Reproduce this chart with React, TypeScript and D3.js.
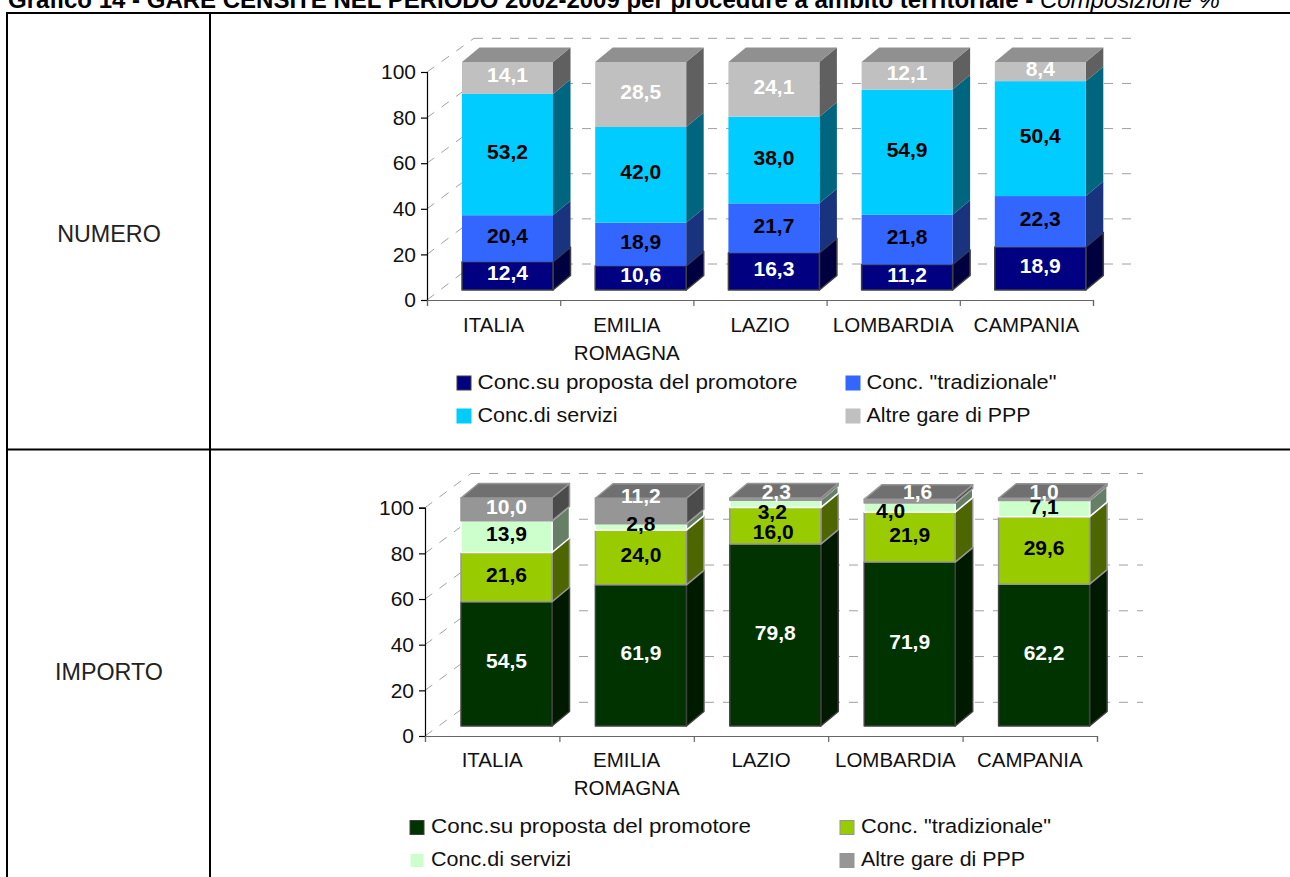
import React, {useEffect, useRef} from 'react';
import * as d3 from "d3";

const categories = ["ITALIA", "EMILIA ROMAGNA", "LAZIO", "LOMBARDIA", "CAMPANIA"]
const seriesNames = ["Conc.su proposta del promotore", 'Conc. "tradizionale"', "Conc.di servizi", "Altre gare di PPP"]
const yTicks = [0, 20, 40, 60, 80, 100]

// NUMERO
const numPromotore = [12.4, 10.6, 16.3, 11.2, 18.9]
const numTradizionale = [20.4, 18.9, 21.7, 21.8, 22.3]
const numServizi = [53.2, 42.0, 38.0, 54.9, 50.4]
const numAltre = [14.1, 28.5, 24.1, 12.1, 8.4]

// IMPORTO
const impPromotore = [54.5, 61.9, 79.8, 71.9, 62.2]
const impTradizionale = [21.6, 24.0, 16.0, 21.9, 29.6]
const impServizi = [13.9, 2.8, 3.2, 4.0, 7.1]
const impAltre = [10.0, 11.2, 2.3, 1.6, 1.0]

const font = "'Liberation Sans', Arial, sans-serif"
const fmt = d3.formatLocale({decimal: ",", thousands: ".", grouping: [3], currency: ["", ""]}).format(".1f")

const numeroStyle = {
  values: [numPromotore, numTradizionale, numServizi, numAltre],
  fill: ["#000080", "#3366ff", "#00ccff", "#c0c0c0"],
  side: ["#000040", "#1a337f", "#006680", "#606060"],
  topFace: "#909090",
  stroke: ["#404040", "none", "none", "none"],
  labelFill: ["#fff", "#000", "#000", "#fff"],
  xRange: [427, 1093],
  yRange: [300, 72],
  backY: [264, 38.3],
  backDx: 47,
  barOffset: 35,
  floor: 290,
  catBaseline: 332,
  legendSwatchX: [457, 846],
  legendTextX: [477.5, 866.5],
  legendBaseline: [389, 422],
  legendSwatchY: [376, 409],
  legendLength: [320, 190, 140, 164],
  nudge: {} as Record<string, number[]>,
}

const importoStyle = {
  values: [impPromotore, impTradizionale, impServizi, impAltre],
  fill: ["#003300", "#99cc00", "#ccffcc", "#969696"],
  side: ["#001a00", "#4d6600", "#667f66", "#4b4b4b"],
  topFace: "#707070",
  stroke: ["#404040", "#969696", "#ffffff", "#969696"],
  labelFill: ["#fff", "#000", "#000", "#fff"],
  xRange: [425, 1097],
  yRange: [736, 507.7],
  backY: [702.3, 473.5],
  backDx: 46,
  barOffset: 36,
  floor: 726,
  catBaseline: 767,
  legendSwatchX: [410, 840],
  legendTextX: [431, 861],
  legendBaseline: [833, 866],
  legendSwatchY: [820.5, 853.5],
  legendLength: [320, 190, 140, 164],
  // hand moved labels, [dx, dy], "series-category"
  nudge: {
    "3-1": [0, -12], "3-2": [1, -5], "2-2": [-3, 10.7], "1-2": [-2, 9],
    "3-3": [8, -6.5], "2-3": [-19, 5.5], "3-4": [0, -4.6], "2-4": [0, 1],
  } as Record<string, number[]>,
}

const barWidth = 91
const depthX = 17.5
const depthY = -14.5

function drawPanel(svg: any, cfg: typeof numeroStyle) {
  const x = d3.scaleBand().domain(categories).range(cfg.xRange as [number, number])
  const edges = d3.scaleLinear().domain([0, categories.length]).range(cfg.xRange)
  const y = d3.scaleLinear().domain([0, 100]).range(cfg.yRange)
  const back = d3.scaleLinear().domain([0, 100]).range(cfg.backY)
  const axisX = cfg.xRange[0]

  // back wall grid
  const grid = svg.append("g")
    .attr("fill", "none")
    .attr("stroke", "#a0a0a0")
    .attr("stroke-width", 1)
    .attr("stroke-dasharray", "9 9")
  yTicks.forEach(t => {
    grid.append("line")
      .attr("x1", axisX + cfg.backDx).attr("x2", cfg.xRange[1] + cfg.backDx)
      .attr("y1", back(t)).attr("y2", back(t))
    grid.append("line")
      .attr("x1", axisX).attr("x2", axisX + cfg.backDx)
      .attr("y1", y(t)).attr("y2", back(t))
  })

  // stacked bars, the floor sits above the axis because of the 3d depth
  const rows = categories.map((_, c) => cfg.values.map(v => v[c]))
  const stacked = d3.stack<number[], number>().keys(d3.range(cfg.values.length)).value((row, k) => row[k])(rows)
  const yBar = d3.scaleLinear().domain([0, 100]).range([cfg.floor, cfg.floor - 228]).clamp(true)

  categories.forEach((cat, c) => {
    const left = (x(cat) as number) + cfg.barOffset
    const right = left + barWidth
    stacked.forEach((segs, s) => {
      const a = segs[c][0]
      const b = segs[c][1]
      const g = svg.append("g")
        .attr("stroke", cfg.stroke[s])
        .attr("stroke-width", 1.5)
        .attr("stroke-linejoin", "round")
      const path = d3.path()
      path.moveTo(right, yBar(a))
      path.lineTo(right + depthX, yBar(a) + depthY)
      path.lineTo(right + depthX, yBar(b) + depthY)
      path.lineTo(right, yBar(b))
      path.closePath()
      g.append("path").attr("d", path.toString()).attr("fill", cfg.side[s])
      g.append("rect")
        .attr("x", left).attr("y", yBar(b))
        .attr("width", barWidth).attr("height", yBar(a) - yBar(b))
        .attr("fill", cfg.fill[s])
      if (s === stacked.length - 1) {
        const t = d3.path()
        t.moveTo(left, yBar(b))
        t.lineTo(left + depthX, yBar(b) + depthY)
        t.lineTo(right + depthX, yBar(b) + depthY)
        t.lineTo(right, yBar(b))
        t.closePath()
        g.append("path").attr("d", t.toString()).attr("fill", cfg.topFace)
      }
    })
  })

  // value labels go over everything
  categories.forEach((cat, c) => {
    const mid = (x(cat) as number) + cfg.barOffset + barWidth / 2
    stacked.forEach((segs, s) => {
      const n = cfg.nudge[`${s}-${c}`] || [0, 0]
      svg.append("text")
        .attr("x", mid + n[0])
        .attr("y", (yBar(segs[c][0]) + yBar(segs[c][1])) / 2 - 3 + n[1] + 7.5)
        .attr("text-anchor", "middle")
        .attr("font-family", font)
        .attr("font-weight", "bold")
        .attr("font-size", 21)
        .attr("fill", cfg.labelFill[s])
        .text(fmt(cfg.values[s][c]))
    })
  })

  // axes
  const yAxis = svg.append("g")
    .attr("transform", `translate(${axisX},0)`)
    .call(d3.axisLeft(y).tickValues(yTicks).tickSize(6).tickPadding(5))
  yAxis.selectAll("line, path").attr("stroke", "#000").attr("stroke-width", 1.2)
  yAxis.selectAll("text")
    .attr("font-family", font).attr("font-size", 21).attr("fill", "#111")

  const tickAxis = svg.append("g")
    .attr("transform", `translate(0,${cfg.yRange[0]})`)
    .call(d3.axisBottom(edges).ticks(categories.length).tickSize(6).tickFormat(() => ""))
  tickAxis.selectAll("line, path").attr("stroke", "#666").attr("stroke-width", 1.2)

  const catAxis = svg.append("g")
    .attr("transform", `translate(0,${cfg.catBaseline})`)
    .call(d3.axisBottom(x).tickSize(0).tickPadding(0))
  catAxis.select(".domain").remove()
  catAxis.selectAll("text")
    .attr("font-family", font).attr("font-size", 20.5).attr("fill", "#111")
    .attr("dy", 0).attr("y", 0)
    .each(function(this: any, d: any) {
      const parts = d.split(" ")
      const el = d3.select(this).text(null)
      parts.forEach((p: string, i: number) => {
        el.append("tspan").attr("x", 0).attr("y", i * 28).text(p)
      })
    })

  // legend, two by two
  seriesNames.forEach((name, i) => {
    const col = i % 2
    const row = Math.floor(i / 2)
    svg.append("rect")
      .attr("x", cfg.legendSwatchX[col]).attr("y", cfg.legendSwatchY[row])
      .attr("width", 14).attr("height", 14)
      .attr("fill", cfg.fill[i])
      .attr("stroke", cfg.stroke[i] === "none" ? cfg.fill[i] : cfg.stroke[i])
      .attr("stroke-width", 1)
    svg.append("text")
      .attr("x", cfg.legendTextX[col]).attr("y", cfg.legendBaseline[row])
      .attr("font-family", font).attr("font-size", 20.5).attr("fill", "#111")
      .attr("textLength", cfg.legendLength[i]).attr("lengthAdjust", "spacingAndGlyphs")
      .text(name)
  })
}

const App = () => {

  const chart = useRef<SVGSVGElement>(null)

  useEffect(() => {
    const svg = d3.select(chart.current)
    svg.selectAll("*").remove()

    // page table
    const rules = svg.append("g").attr("stroke", "#000").attr("stroke-width", 2)
    rules.append("line").attr("x1", 6).attr("x2", 1290).attr("y1", 13).attr("y2", 13)
    rules.append("line").attr("x1", 6).attr("x2", 1290).attr("y1", 449.5).attr("y2", 449.5)
    rules.append("line").attr("x1", 7).attr("x2", 7).attr("y1", 13).attr("y2", 877)
    rules.append("line").attr("x1", 210).attr("x2", 210).attr("y1", 13).attr("y2", 877)

    const title = svg.append("text")
      .attr("x", 8).attr("y", 7.5)
      .attr("font-family", font).attr("font-size", 24).attr("fill", "#000")
    title.append("tspan").attr("font-weight", "bold")
      .text("Grafico 14 - GARE CENSITE NEL PERIODO 2002-2009 per procedure a ambito territoriale - ")
    title.append("tspan").attr("font-style", "italic").text("Composizione %")

    svg.append("text").attr("x", 109).attr("y", 241.5)
      .attr("text-anchor", "middle").attr("font-family", font).attr("font-size", 23.3).attr("fill", "#222")
      .text("NUMERO")
    svg.append("text").attr("x", 109).attr("y", 679.5)
      .attr("text-anchor", "middle").attr("font-family", font).attr("font-size", 23.3).attr("fill", "#222")
      .text("IMPORTO")

    drawPanel(svg, numeroStyle)
    drawPanel(svg, importoStyle as any)

    return () => {
      svg.selectAll("*").remove()
    }
  }, [])

  return (
    <svg ref={chart} width={1290} height={877} style={{position: "absolute", left: 0, top: 0, background: "#fff"}}/>
  );
};

export default App;
